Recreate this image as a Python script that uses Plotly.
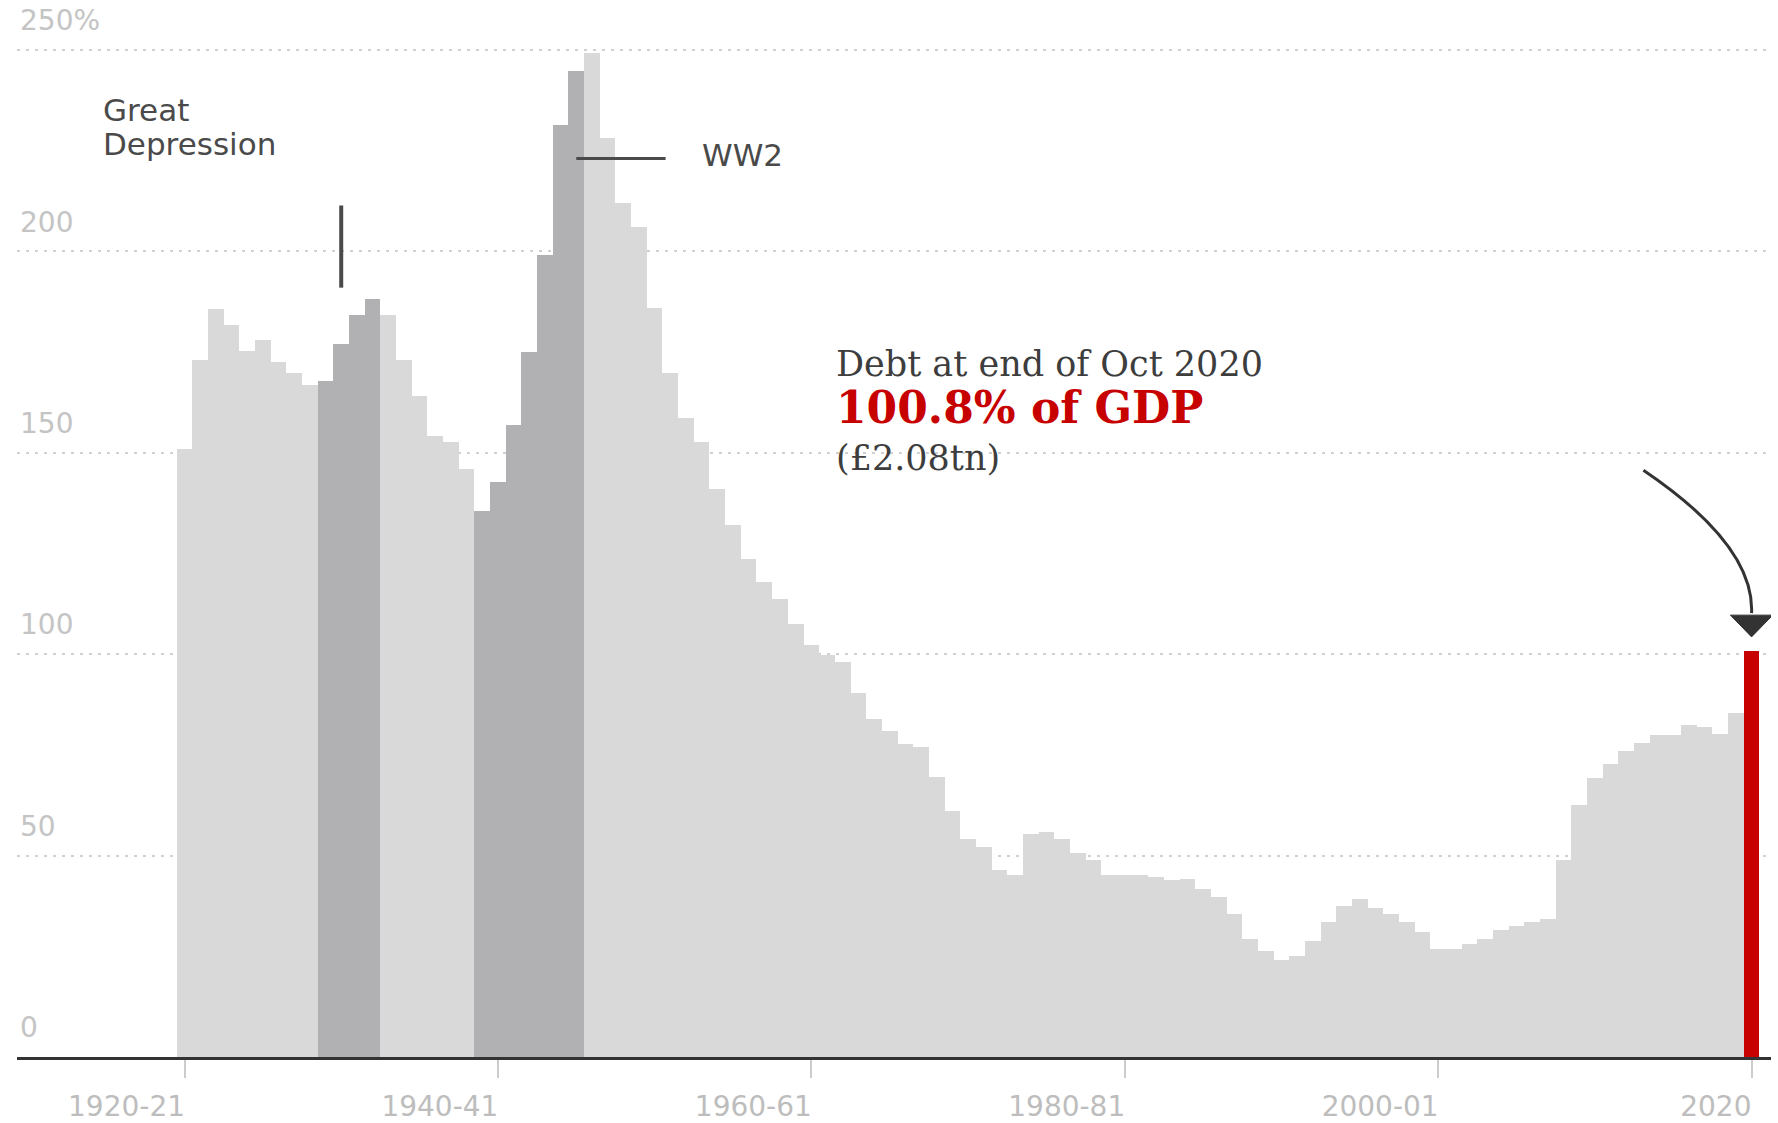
import plotly.graph_objects as go

# UK public sector net debt, % of GDP, by fiscal year (1920-21 ... 2019-20) plus Oct 2020
years = list(range(1920, 2021))
debt_pct_gdp = [
    151.0, 173.1, 185.8, 181.8, 175.4, 178.1, 172.6, 169.9, 166.9,   # 1920-1928
    167.9, 176.9, 184.3, 188.1,                                      # 1929-1932
    184.1, 173.1, 164.2, 154.2, 152.7, 146.0,                        # 1933-1938
    135.6, 142.8, 157.0, 175.1, 199.0, 231.3, 244.8,                 # 1939-1945
    249.3, 228.1, 211.9, 206.0,                                      # 1946-1949
    185.9, 169.7, 158.7, 152.8, 141.0, 132.1, 123.7, 118.0, 113.8, 107.5,  # 1950s
    102.3, 99.7, 98.1, 90.3, 84.0, 80.9, 77.7, 76.9, 69.4, 61.0,     # 1960s
    54.2, 52.1, 46.4, 45.1, 55.3, 55.8, 54.2, 50.6, 49.0, 45.3,      # 1970s
    45.2, 45.3, 44.6, 43.9, 44.3, 41.8, 39.8, 35.6, 29.4, 26.3,      # 1980s
    24.1, 25.2, 28.9, 33.5, 37.6, 39.3, 37.0, 35.4, 33.5, 31.0,      # 1990s
    26.9, 26.7, 28.1, 29.3, 31.6, 32.6, 33.5, 34.3, 48.8, 62.6,      # 2000s
    69.3, 72.7, 76.0, 77.9, 80.0, 80.0, 82.5, 82.0, 80.2, 85.3,      # 2010s
    100.8,                                                           # Oct 2020
]
depression_years = list(range(1929, 1933))
ww2_years = list(range(1939, 1946))
debt_total = "£2.08tn"

x_tickvals = [1920, 1940, 1960, 1980, 2000, 2020]
x_ticktext = ["1920-21", "1940-41", "1960-61", "1980-81", "2000-01",
              "\u00a0" * 5 + "2020"]
y_tickvals = [0, 50, 100, 150, 200, 250]
y_ticktext = ["0", "50", "100", "150", "200", "250%"]

LIGHT = "#d9d9d9"
DARK = "#b1b1b3"
RED = "#c70000"
INK = "#4a4a4a"
SANS = "DejaVu Sans"
SERIF = "DejaVu Serif"

latest_year = years[-1]
latest = debt_pct_gdp[-1]

colors = []
for yr in years:
    if yr == latest_year:
        colors.append(RED)
    elif yr in depression_years or yr in ww2_years:
        colors.append(DARK)
    else:
        colors.append(LIGHT)

fig = go.Figure(
    go.Bar(
        x=years,
        y=debt_pct_gdp,
        width=1.0,
        marker=dict(color=colors, line=dict(width=0)),
        hoverinfo="x+y",
    )
)

shapes = [
    # Great Depression marker
    dict(type="line", xref="x", yref="y", x0=1930, x1=1930, y0=191.0, y1=211.4,
         line=dict(color=INK, width=4), layer="above"),
    # WW2 marker
    dict(type="line", xref="x", yref="y", x0=1945.0, x1=1950.7, y0=223.1, y1=223.1,
         line=dict(color=INK, width=3), layer="above"),
]

# curved pointer down to the latest bar
tip_y = latest + 3.5
head_y = latest + 8.9
shapes.append(dict(
    type="path", xref="x", yref="y", layer="above",
    path=f"M 2013.1,145.7 Q 2020.2,127.0 {latest_year},{head_y + 0.5}",
    line=dict(color="#333333", width=3),
))
shapes.append(dict(
    type="path", xref="x", yref="y", layer="above",
    path=(f"M {latest_year - 1.35},{head_y} L {latest_year + 1.35},{head_y} "
          f"L {latest_year},{tip_y} Z"),
    fillcolor="#333333", line=dict(color="#333333", width=1),
))

callout = (
    '<span style="font-size:35px">Debt at end of Oct 2020</span><br>'
    f'<span style="font-size:44px;color:{RED}"><b>{latest:.1f}% of GDP</b></span><br>'
    f'<span style="font-size:35px">({debt_total})</span>'
)

annotations = [
    dict(x=1914.7, y=235.1, xref="x", yref="y", text="Great", showarrow=False,
         xanchor="left", yanchor="middle", font=dict(family=SANS, size=31, color=INK)),
    dict(x=1914.7, y=226.7, xref="x", yref="y", text="Depression", showarrow=False,
         xanchor="left", yanchor="middle", font=dict(family=SANS, size=31, color=INK)),
    dict(x=1952.9, y=224.0, xref="x", yref="y", text="WW2", showarrow=False,
         xanchor="left", yanchor="middle", font=dict(family=SANS, size=31, color=INK)),
    dict(x=1961.45, y=160.4, xref="x", yref="y", text=callout,
         showarrow=False, xanchor="left", yanchor="middle", align="left",
         font=dict(family=SERIF, size=36, color="#3d3d3d")),
]

fig.update_layout(
    width=1778,
    height=1123,
    margin=dict(l=17, r=7, t=46, b=66),
    paper_bgcolor="white",
    plot_bgcolor="white",
    showlegend=False,
    bargap=0,
    shapes=shapes,
    annotations=annotations,
    xaxis=dict(
        range=[1909.31, 2021.24],
        automargin=False,
        tickmode="array",
        tickvals=x_tickvals,
        ticktext=x_ticktext,
        ticks="outside",
        ticklen=18,
        tickwidth=2,
        tickcolor="#cccccc",
        showline=True,
        linecolor="#333333",
        linewidth=3,
        showgrid=False,
        zeroline=False,
        ticklabelshift=-58,
        ticklabelstandoff=4,
        tickfont=dict(family=SANS, size=28, color="#bdbdbd"),
        fixedrange=True,
    ),
    yaxis=dict(
        range=[0, 251],
        automargin=False,
        tickmode="array",
        tickvals=y_tickvals,
        ticktext=y_ticktext,
        ticks="",
        showgrid=True,
        gridcolor="#d0d0d0",
        gridwidth=2,
        griddash="3px,6px",
        zeroline=False,
        showline=False,
        ticklabelposition="inside top",
        ticklabeloverflow="allow",
        ticklabelshift=-10,
        ticklabelstandoff=0,
        tickfont=dict(family=SANS, size=28, color="#c4c4c4"),
        fixedrange=True,
    ),
)

fig.write_html("out.html")
